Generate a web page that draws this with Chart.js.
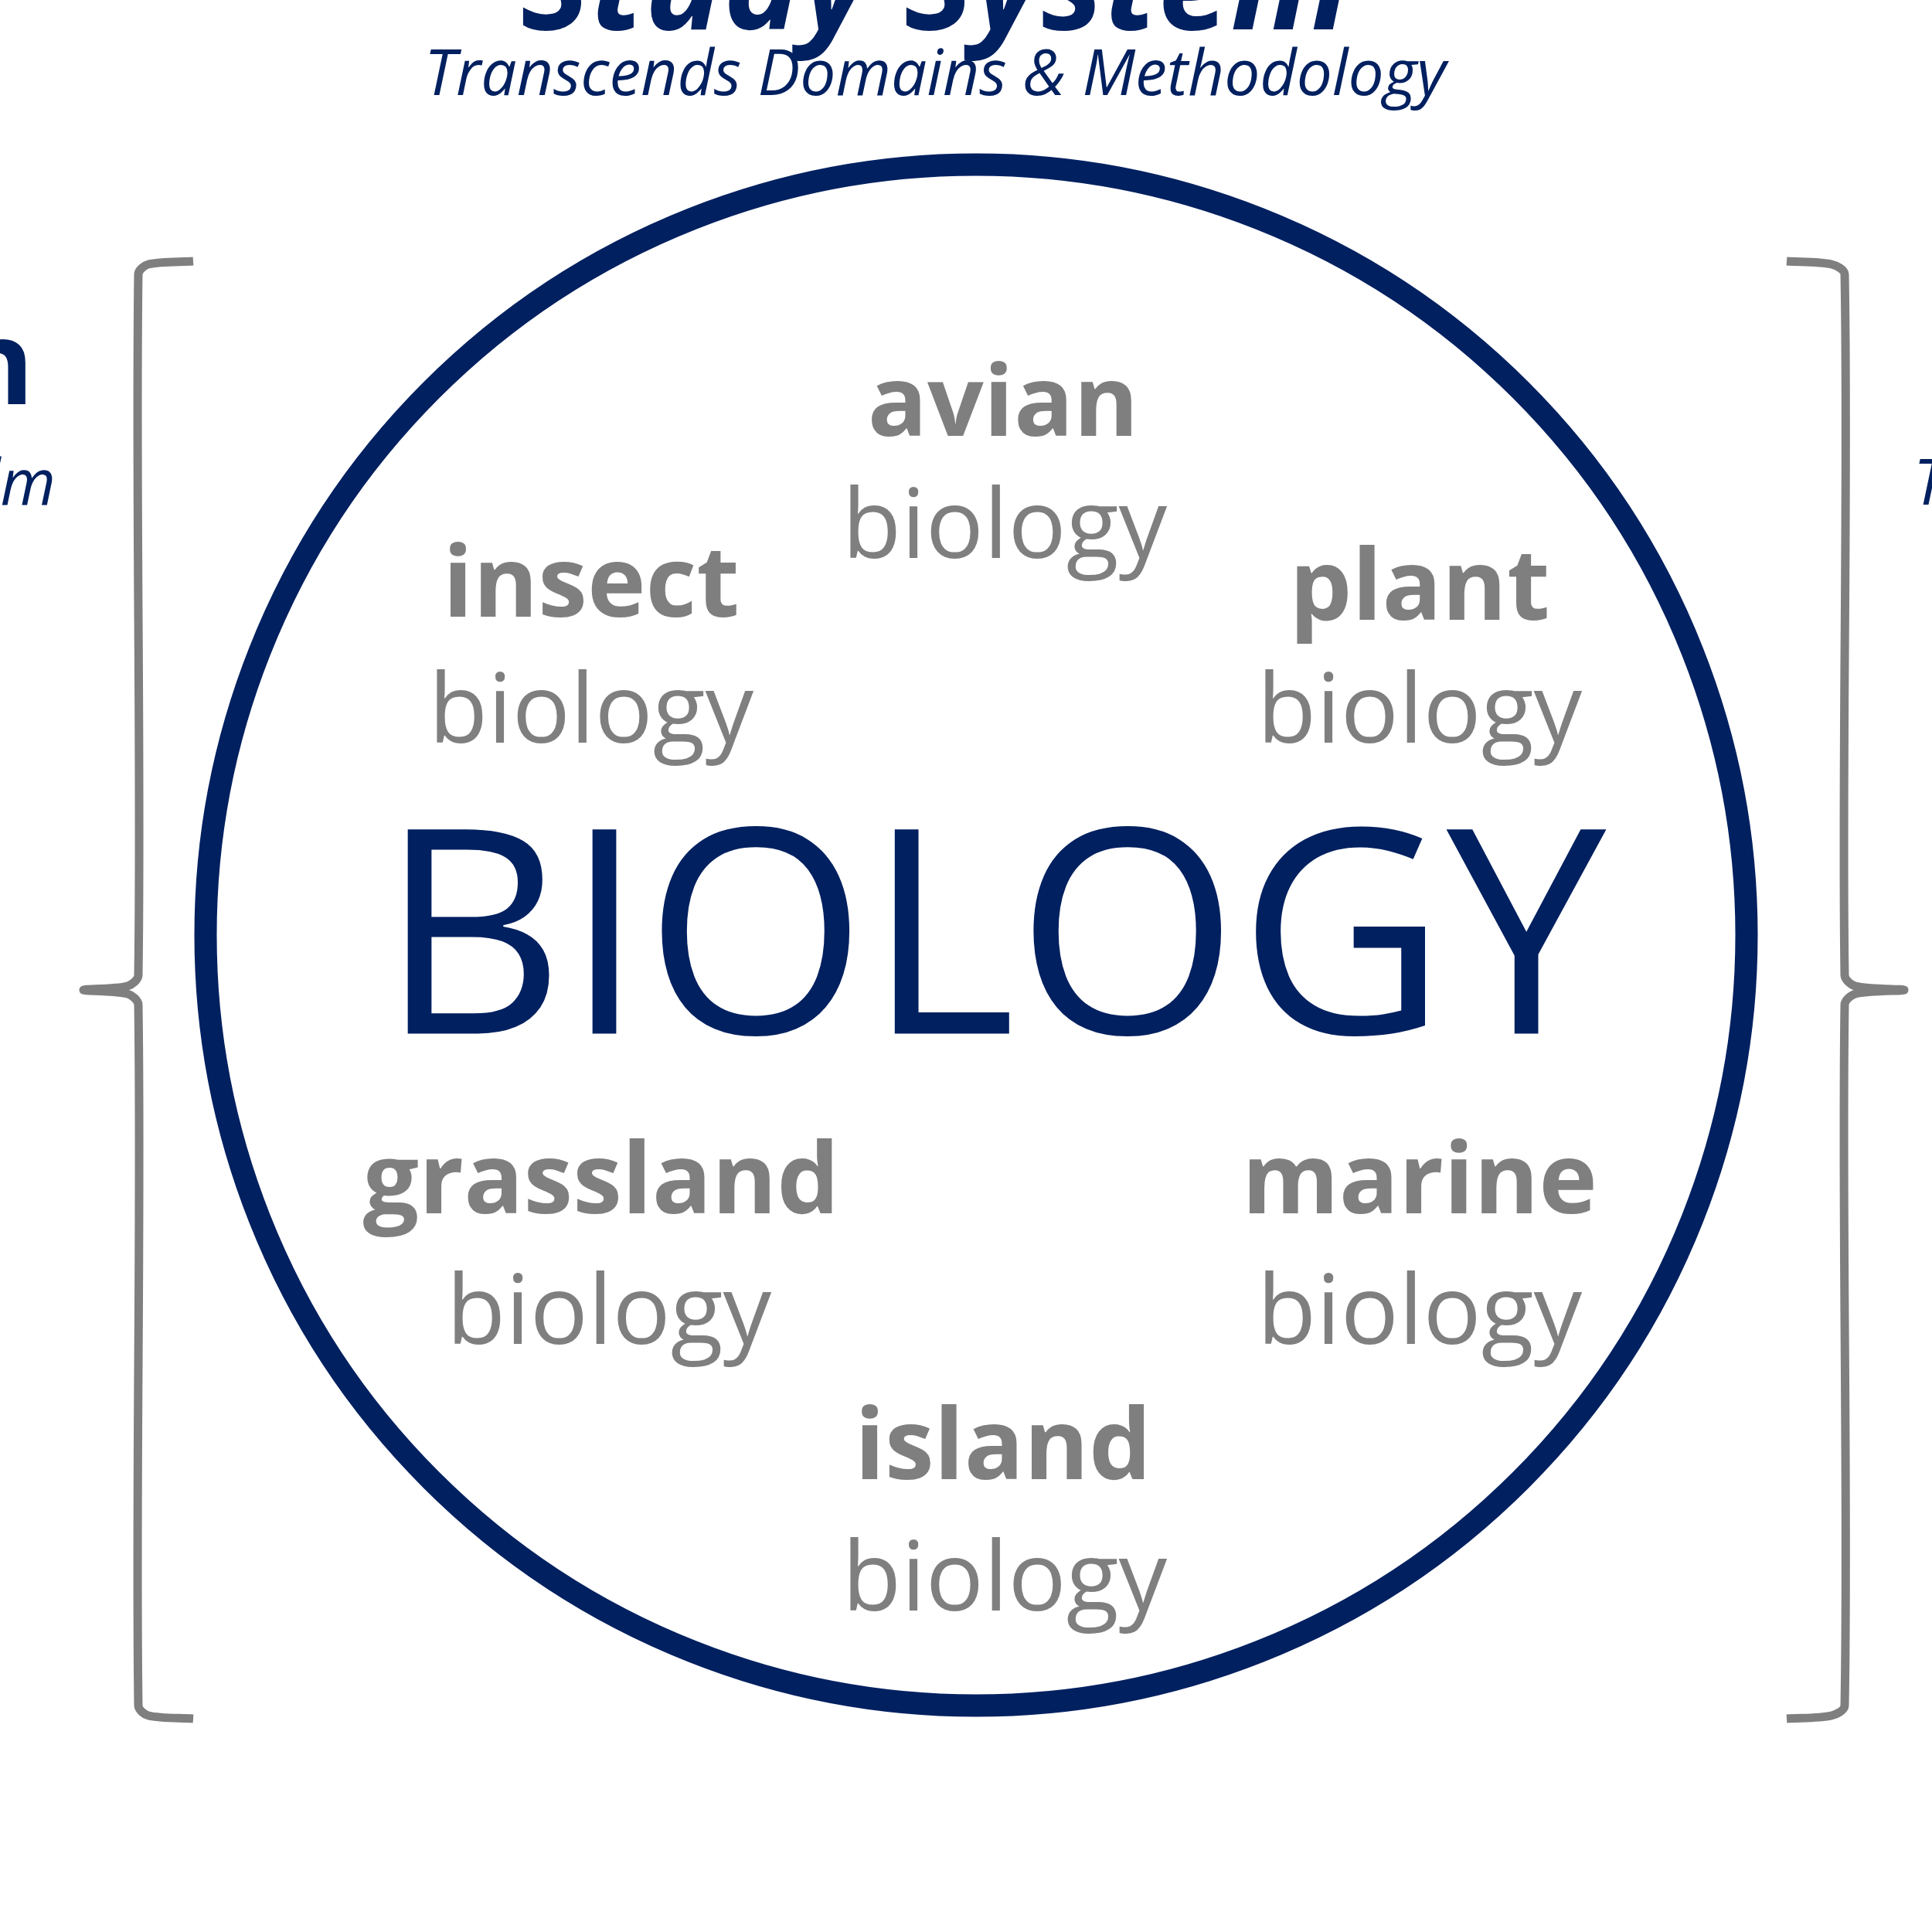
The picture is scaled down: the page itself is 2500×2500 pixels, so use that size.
<!DOCTYPE html>
<html>
<head>
<meta charset="utf-8">
<script src="https://cdn.jsdelivr.net/npm/chart.js@4/dist/chart.umd.min.js"></script>
<style>html,body{margin:0;padding:0;background:#fff}</style>
</head>
<body>
<canvas id="c" width="2500" height="2500"></canvas>
<script>
// labels around the circle (coordinates in the 0..2500 page space)
const words  = ['avian','biology','insect','biology','plant','biology','BIOLOGY','grassland','biology','marine','biology','island','biology'];
const wordX  = [1298,1300,765,765,1837,1837,1285,778,788,1837,1837,1298,1300];
const wordY  = [528,686,762,925,766,925,1232,1534,1703,1534,1703,1878,2048];
const wordStyle = ['b','r','b','r','b','r','big','b','r','b','r','b','r'];

// page texts around the outside
const titleTexts = ['Study System','Transcends Domains & Methodology','Domain','Realm','T'];
const titleX = [1210,1210,44,72,2476];
const titleY = [-10,100,480,630,630];

// circle + brackets
const circle = [{x:1263,y:1210}];
const leftBracket = [{x:250,y:338},{x:192,y:342},{x:179,y:355},{x:179,y:1262},{x:165,y:1276},{x:108,y:1281},{x:165,y:1286},{x:179,y:1300},{x:179,y:2207},{x:192,y:2220},{x:250,y:2224}];
const rightBracket = [{x:2312,y:338},{x:2370,y:342},{x:2387,y:355},{x:2387,y:1262},{x:2401,y:1276},{x:2464,y:1281},{x:2401,y:1286},{x:2387,y:1300},{x:2387,y:2207},{x:2370,y:2220},{x:2312,y:2224}];

const navy = '#002060', grey = '#7f7f7f';

const textPlugin = {
  id:'texts',
  afterDatasetsDraw(chart){
    const ctx = chart.ctx, xs = chart.scales.x, ys = chart.scales.y;
    ctx.save();
    ctx.textBaseline = 'middle';
    words.forEach((w,i)=>{
      const s = wordStyle[i];
      ctx.textAlign = 'center';
      if (s==='big'){ ctx.font = '370px "Open Sans"'; ctx.fillStyle = navy; }
      else if (s==='b'){ ctx.font = 'bold 128px "Open Sans"'; ctx.fillStyle = grey; }
      else { ctx.font = '125px "Open Sans"'; ctx.fillStyle = grey; }
      ctx.fillText(w, xs.getPixelForValue(wordX[i]), ys.getPixelForValue(wordY[i]));
    });
    ctx.fillStyle = navy;
    const fonts = ['bold italic 170px "Open Sans"','italic 82px "Open Sans"','bold 150px "Open Sans"','italic 82px "Open Sans"','italic 82px "Open Sans"'];
    const aligns = ['center','center','right','right','left'];
    titleTexts.forEach((t,i)=>{
      ctx.font = fonts[i]; ctx.textAlign = aligns[i];
      ctx.fillText(t, xs.getPixelForValue(titleX[i]), ys.getPixelForValue(titleY[i]));
    });
    ctx.restore();
  }
};

new Chart(document.getElementById('c').getContext('2d'), {
  type:'scatter',
  data:{datasets:[
    {data:circle, clip:false, pointRadius:997, pointHoverRadius:997, pointBorderWidth:29, pointBorderColor:navy, pointBackgroundColor:'rgba(0,0,0,0)'},
    {data:leftBracket, clip:false, showLine:true, borderColor:grey, borderWidth:11, pointRadius:0, tension:0.3, borderJoinStyle:'round', borderCapStyle:'butt'},
    {data:rightBracket, clip:false, showLine:true, borderColor:grey, borderWidth:11, pointRadius:0, tension:0.3, borderJoinStyle:'round', borderCapStyle:'butt'}
  ]},
  options:{
    responsive:false, animation:false, events:[],
    layout:{padding:0, autoPadding:false},
    plugins:{legend:{display:false}, tooltip:{enabled:false}},
    scales:{
      x:{min:0,max:2500,display:false},
      y:{min:0,max:2500,reverse:true,display:false}
    }
  },
  plugins:[textPlugin]
});
</script>
</body>
</html>
